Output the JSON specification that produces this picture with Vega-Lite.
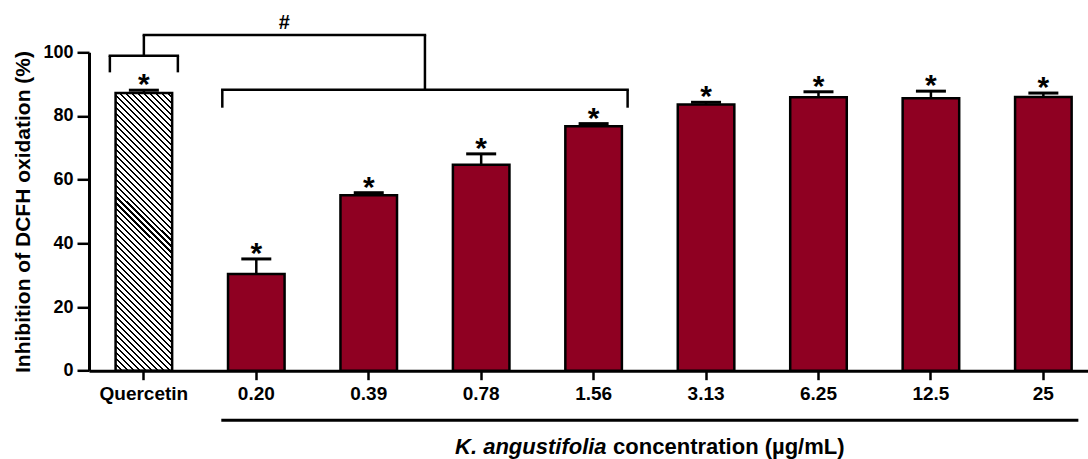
{
  "$schema": "https://vega.github.io/schema/vega-lite/v6.json",
  "width": 999,
  "height": 318.4,
  "autosize": {"type": "none"},
  "padding": {"left": 89, "top": 52.3, "right": 0, "bottom": 88.3},
  "config": {
    "view": {"stroke": null},
    "font": "Liberation Sans",
    "axisX": {"labelAngle": 0, "ticks": true, "tickSize": 9, "tickWidth": 2.5, "tickColor": "black", "domainWidth": 3, "domainColor": "black", "labelFont": "Liberation Sans", "labelFontWeight": "bold", "labelFontSize": 19, "labelColor": "black", "labelPadding": 5, "grid": false},
    "axisY": {"ticks": true, "grid": false, "tickSize": 12, "tickWidth": 2.5, "tickColor": "black", "domainWidth": 3, "domainColor": "black", "labelFont": "Liberation Sans", "labelFontWeight": "bold", "labelFontSize": 18, "labelColor": "black", "labelPadding": 4, "titleFont": "Liberation Sans", "titleFontWeight": "bold", "titleFontSize": 21, "titleColor": "black", "titleX": -59.5, "titleBaseline": "alphabetic"}
  },
  "datasets": {
    "bars": [
      {"group": "Quercetin", "mean": 87.2, "upper": 88.1},
      {"group": "0.20", "mean": 30.4, "upper": 35.1},
      {"group": "0.39", "mean": 55.1, "upper": 55.9},
      {"group": "0.78", "mean": 64.7, "upper": 68.1},
      {"group": "1.56", "mean": 76.8, "upper": 77.6},
      {"group": "3.13", "mean": 83.6, "upper": 84.3},
      {"group": "6.25", "mean": 85.9, "upper": 87.6},
      {"group": "12.5", "mean": 85.6, "upper": 87.8},
      {"group": "25", "mean": 86.0, "upper": 87.2}
    ],
    "brackets": [
      {"from": "Quercetin", "to": "Quercetin", "level": 98.9, "leg": 93.7},
      {"from": "0.20", "to": "1.56", "level": 88.2, "leg": 82.6}
    ]
  },
  "layer": [
    {
      "mark": {"type": "rule", "strokeDash": [4, 3], "strokeWidth": 1.5, "color": "black"},
      "encoding": {"y": {"datum": 50, "type": "quantitative", "title": "Inhibition of DCFH oxidation (%)"}}
    },
    {
      "data": {"name": "bars"},
      "transform": [{"filter": "datum.group !== 'Quercetin'"}],
      "mark": {"type": "bar", "fill": "#8F0022", "stroke": "black", "strokeWidth": 2.5},
      "encoding": {
        "x": {
          "field": "group", "type": "nominal", "sort": null, "title": null,
          "scale": {"domain": ["Quercetin", "0.20", "0.39", "0.78", "1.56", "3.13", "6.25", "12.5", "25"], "paddingInner": 0.497, "paddingOuter": 0.191, "align": 0.619, "round": false}
        },
        "y": {
          "field": "mean", "type": "quantitative", "title": "Inhibition of DCFH oxidation (%)",
          "scale": {"domain": [0, 100], "nice": false, "zero": true},
          "axis": {"values": [0, 20, 40, 60, 80, 100]}
        }
      }
    },
    {
      "data": {"name": "bars"},
      "transform": [{"filter": "datum.group === 'Quercetin'"}],
      "mark": {"type": "bar", "stroke": "black", "strokeWidth": 2.5,
        "fill": {"gradient": "linear", "x1": 0, "y1": 1, "x2": 0.2352, "y2": -0.1557, "stops": [
{"offset":0,"color":"#000"},{"offset":0.00625,"color":"#000"},{"offset":0.00625,"color":"transparent"},{"offset":0.01786,"color":"transparent"},
{"offset":0.01786,"color":"#000"},{"offset":0.02411,"color":"#000"},{"offset":0.02411,"color":"transparent"},{"offset":0.03571,"color":"transparent"},
{"offset":0.03571,"color":"#000"},{"offset":0.04196,"color":"#000"},{"offset":0.04196,"color":"transparent"},{"offset":0.05357,"color":"transparent"},
{"offset":0.05357,"color":"#000"},{"offset":0.05982,"color":"#000"},{"offset":0.05982,"color":"transparent"},{"offset":0.07143,"color":"transparent"},
{"offset":0.07143,"color":"#000"},{"offset":0.07768,"color":"#000"},{"offset":0.07768,"color":"transparent"},{"offset":0.08929,"color":"transparent"},
{"offset":0.08929,"color":"#000"},{"offset":0.09554,"color":"#000"},{"offset":0.09554,"color":"transparent"},{"offset":0.10714,"color":"transparent"},
{"offset":0.10714,"color":"#000"},{"offset":0.11339,"color":"#000"},{"offset":0.11339,"color":"transparent"},{"offset":0.125,"color":"transparent"},
{"offset":0.125,"color":"#000"},{"offset":0.13125,"color":"#000"},{"offset":0.13125,"color":"transparent"},{"offset":0.14286,"color":"transparent"},
{"offset":0.14286,"color":"#000"},{"offset":0.14911,"color":"#000"},{"offset":0.14911,"color":"transparent"},{"offset":0.16071,"color":"transparent"},
{"offset":0.16071,"color":"#000"},{"offset":0.16696,"color":"#000"},{"offset":0.16696,"color":"transparent"},{"offset":0.17857,"color":"transparent"},
{"offset":0.17857,"color":"#000"},{"offset":0.18482,"color":"#000"},{"offset":0.18482,"color":"transparent"},{"offset":0.19643,"color":"transparent"},
{"offset":0.19643,"color":"#000"},{"offset":0.20268,"color":"#000"},{"offset":0.20268,"color":"transparent"},{"offset":0.21429,"color":"transparent"},
{"offset":0.21429,"color":"#000"},{"offset":0.22054,"color":"#000"},{"offset":0.22054,"color":"transparent"},{"offset":0.23214,"color":"transparent"},
{"offset":0.23214,"color":"#000"},{"offset":0.23839,"color":"#000"},{"offset":0.23839,"color":"transparent"},{"offset":0.25,"color":"transparent"},
{"offset":0.25,"color":"#000"},{"offset":0.25625,"color":"#000"},{"offset":0.25625,"color":"transparent"},{"offset":0.26786,"color":"transparent"},
{"offset":0.26786,"color":"#000"},{"offset":0.27411,"color":"#000"},{"offset":0.27411,"color":"transparent"},{"offset":0.28571,"color":"transparent"},
{"offset":0.28571,"color":"#000"},{"offset":0.29196,"color":"#000"},{"offset":0.29196,"color":"transparent"},{"offset":0.30357,"color":"transparent"},
{"offset":0.30357,"color":"#000"},{"offset":0.30982,"color":"#000"},{"offset":0.30982,"color":"transparent"},{"offset":0.32143,"color":"transparent"},
{"offset":0.32143,"color":"#000"},{"offset":0.32768,"color":"#000"},{"offset":0.32768,"color":"transparent"},{"offset":0.33929,"color":"transparent"},
{"offset":0.33929,"color":"#000"},{"offset":0.34554,"color":"#000"},{"offset":0.34554,"color":"transparent"},{"offset":0.35714,"color":"transparent"},
{"offset":0.35714,"color":"#000"},{"offset":0.36339,"color":"#000"},{"offset":0.36339,"color":"transparent"},{"offset":0.375,"color":"transparent"},
{"offset":0.375,"color":"#000"},{"offset":0.38125,"color":"#000"},{"offset":0.38125,"color":"transparent"},{"offset":0.39286,"color":"transparent"},
{"offset":0.39286,"color":"#000"},{"offset":0.39911,"color":"#000"},{"offset":0.39911,"color":"transparent"},{"offset":0.41071,"color":"transparent"},
{"offset":0.41071,"color":"#000"},{"offset":0.41696,"color":"#000"},{"offset":0.41696,"color":"transparent"},{"offset":0.42857,"color":"transparent"},
{"offset":0.42857,"color":"#000"},{"offset":0.43482,"color":"#000"},{"offset":0.43482,"color":"transparent"},{"offset":0.44643,"color":"transparent"},
{"offset":0.44643,"color":"#000"},{"offset":0.45268,"color":"#000"},{"offset":0.45268,"color":"transparent"},{"offset":0.46429,"color":"transparent"},
{"offset":0.46429,"color":"#000"},{"offset":0.47054,"color":"#000"},{"offset":0.47054,"color":"transparent"},{"offset":0.48214,"color":"transparent"},
{"offset":0.48214,"color":"#000"},{"offset":0.48839,"color":"#000"},{"offset":0.48839,"color":"transparent"},{"offset":0.5,"color":"transparent"},
{"offset":0.5,"color":"#000"},{"offset":0.50625,"color":"#000"},{"offset":0.50625,"color":"transparent"},{"offset":0.51786,"color":"transparent"},
{"offset":0.51786,"color":"#000"},{"offset":0.52411,"color":"#000"},{"offset":0.52411,"color":"transparent"},{"offset":0.53571,"color":"transparent"},
{"offset":0.53571,"color":"#000"},{"offset":0.54196,"color":"#000"},{"offset":0.54196,"color":"transparent"},{"offset":0.55357,"color":"transparent"},
{"offset":0.55357,"color":"#000"},{"offset":0.55982,"color":"#000"},{"offset":0.55982,"color":"transparent"},{"offset":0.57143,"color":"transparent"},
{"offset":0.57143,"color":"#000"},{"offset":0.57768,"color":"#000"},{"offset":0.57768,"color":"transparent"},{"offset":0.58929,"color":"transparent"},
{"offset":0.58929,"color":"#000"},{"offset":0.59554,"color":"#000"},{"offset":0.59554,"color":"transparent"},{"offset":0.60714,"color":"transparent"},
{"offset":0.60714,"color":"#000"},{"offset":0.61339,"color":"#000"},{"offset":0.61339,"color":"transparent"},{"offset":0.625,"color":"transparent"},
{"offset":0.625,"color":"#000"},{"offset":0.63125,"color":"#000"},{"offset":0.63125,"color":"transparent"},{"offset":0.64286,"color":"transparent"},
{"offset":0.64286,"color":"#000"},{"offset":0.64911,"color":"#000"},{"offset":0.64911,"color":"transparent"},{"offset":0.66071,"color":"transparent"},
{"offset":0.66071,"color":"#000"},{"offset":0.66696,"color":"#000"},{"offset":0.66696,"color":"transparent"},{"offset":0.67857,"color":"transparent"},
{"offset":0.67857,"color":"#000"},{"offset":0.68482,"color":"#000"},{"offset":0.68482,"color":"transparent"},{"offset":0.69643,"color":"transparent"},
{"offset":0.69643,"color":"#000"},{"offset":0.70268,"color":"#000"},{"offset":0.70268,"color":"transparent"},{"offset":0.71429,"color":"transparent"},
{"offset":0.71429,"color":"#000"},{"offset":0.72054,"color":"#000"},{"offset":0.72054,"color":"transparent"},{"offset":0.73214,"color":"transparent"},
{"offset":0.73214,"color":"#000"},{"offset":0.73839,"color":"#000"},{"offset":0.73839,"color":"transparent"},{"offset":0.75,"color":"transparent"},
{"offset":0.75,"color":"#000"},{"offset":0.75625,"color":"#000"},{"offset":0.75625,"color":"transparent"},{"offset":0.76786,"color":"transparent"},
{"offset":0.76786,"color":"#000"},{"offset":0.77411,"color":"#000"},{"offset":0.77411,"color":"transparent"},{"offset":0.78571,"color":"transparent"},
{"offset":0.78571,"color":"#000"},{"offset":0.79196,"color":"#000"},{"offset":0.79196,"color":"transparent"},{"offset":0.80357,"color":"transparent"},
{"offset":0.80357,"color":"#000"},{"offset":0.80982,"color":"#000"},{"offset":0.80982,"color":"transparent"},{"offset":0.82143,"color":"transparent"},
{"offset":0.82143,"color":"#000"},{"offset":0.82768,"color":"#000"},{"offset":0.82768,"color":"transparent"},{"offset":0.83929,"color":"transparent"},
{"offset":0.83929,"color":"#000"},{"offset":0.84554,"color":"#000"},{"offset":0.84554,"color":"transparent"},{"offset":0.85714,"color":"transparent"},
{"offset":0.85714,"color":"#000"},{"offset":0.86339,"color":"#000"},{"offset":0.86339,"color":"transparent"},{"offset":0.875,"color":"transparent"},
{"offset":0.875,"color":"#000"},{"offset":0.88125,"color":"#000"},{"offset":0.88125,"color":"transparent"},{"offset":0.89286,"color":"transparent"},
{"offset":0.89286,"color":"#000"},{"offset":0.89911,"color":"#000"},{"offset":0.89911,"color":"transparent"},{"offset":0.91071,"color":"transparent"},
{"offset":0.91071,"color":"#000"},{"offset":0.91696,"color":"#000"},{"offset":0.91696,"color":"transparent"},{"offset":0.92857,"color":"transparent"},
{"offset":0.92857,"color":"#000"},{"offset":0.93482,"color":"#000"},{"offset":0.93482,"color":"transparent"},{"offset":0.94643,"color":"transparent"},
{"offset":0.94643,"color":"#000"},{"offset":0.95268,"color":"#000"},{"offset":0.95268,"color":"transparent"},{"offset":0.96429,"color":"transparent"},
{"offset":0.96429,"color":"#000"},{"offset":0.97054,"color":"#000"},{"offset":0.97054,"color":"transparent"},{"offset":0.98214,"color":"transparent"},
{"offset":0.98214,"color":"#000"},{"offset":0.98839,"color":"#000"},{"offset":0.98839,"color":"transparent"},{"offset":1,"color":"transparent"}
        ]}},
      "encoding": {
        "x": {"field": "group", "type": "nominal", "title": null},
        "y": {"field": "mean", "type": "quantitative", "title": "Inhibition of DCFH oxidation (%)"}
      }
    },
    {
      "data": {"name": "bars"},
      "mark": {"type": "rule", "strokeWidth": 2.5, "color": "black"},
      "encoding": {
        "x": {"field": "group", "type": "nominal", "title": null},
        "y": {"field": "mean", "type": "quantitative", "title": "Inhibition of DCFH oxidation (%)"},
        "y2": {"field": "upper"}
      }
    },
    {
      "data": {"name": "bars"},
      "mark": {"type": "tick", "orient": "horizontal", "size": 30, "thickness": 3, "color": "black", "opacity": 1},
      "encoding": {
        "x": {"field": "group", "type": "nominal", "title": null},
        "y": {"field": "upper", "type": "quantitative", "title": "Inhibition of DCFH oxidation (%)"}
      }
    },
    {
      "data": {"name": "bars"},
      "mark": {"type": "text", "text": "*", "font": "Liberation Sans", "fontWeight": "bold", "fontSize": 30, "baseline": "alphabetic", "align": "center", "dy": 4, "color": "black"},
      "encoding": {
        "x": {"field": "group", "type": "nominal", "title": null},
        "y": {"field": "upper", "type": "quantitative", "title": "Inhibition of DCFH oxidation (%)"}
      }
    },
    {
      "data": {"name": "brackets"},
      "mark": {"type": "rule", "strokeWidth": 2.5, "color": "black", "xOffset": -34, "x2Offset": 34, "strokeCap": "square"},
      "encoding": {
        "x": {"field": "from", "type": "nominal", "title": null},
        "x2": {"field": "to"},
        "y": {"field": "level", "type": "quantitative", "title": "Inhibition of DCFH oxidation (%)"}
      }
    },
    {
      "data": {"name": "brackets"},
      "mark": {"type": "rule", "strokeWidth": 2.5, "color": "black", "xOffset": -34},
      "encoding": {
        "x": {"field": "from", "type": "nominal", "title": null},
        "y": {"field": "level", "type": "quantitative", "title": "Inhibition of DCFH oxidation (%)"},
        "y2": {"field": "leg"}
      }
    },
    {
      "data": {"name": "brackets"},
      "mark": {"type": "rule", "strokeWidth": 2.5, "color": "black", "xOffset": 34},
      "encoding": {
        "x": {"field": "to", "type": "nominal", "title": null},
        "y": {"field": "level", "type": "quantitative", "title": "Inhibition of DCFH oxidation (%)"},
        "y2": {"field": "leg"}
      }
    },
    {
      "data": {"values": [{"at": "Quercetin", "low": 98.9, "high": 105.4}]},
      "mark": {"type": "rule", "strokeWidth": 2.5, "color": "black"},
      "encoding": {
        "x": {"field": "at", "type": "nominal", "title": null},
        "y": {"field": "low", "type": "quantitative", "title": "Inhibition of DCFH oxidation (%)"},
        "y2": {"field": "high"}
      }
    },
    {
      "data": {"values": [{"at": "0.39", "low": 88.2, "high": 105.4}]},
      "mark": {"type": "rule", "strokeWidth": 2.5, "color": "black", "xOffset": 56.2},
      "encoding": {
        "x": {"field": "at", "type": "nominal", "title": null},
        "y": {"field": "low", "type": "quantitative", "title": "Inhibition of DCFH oxidation (%)"},
        "y2": {"field": "high"}
      }
    },
    {
      "data": {"values": [{"from": "Quercetin", "to": "0.39", "level": 105.4}]},
      "mark": {"type": "rule", "strokeWidth": 2.5, "color": "black", "x2Offset": 56.2, "strokeCap": "square"},
      "encoding": {
        "x": {"field": "from", "type": "nominal", "title": null},
        "x2": {"field": "to"},
        "y": {"field": "level", "type": "quantitative", "title": "Inhibition of DCFH oxidation (%)"}
      }
    },
    {
      "data": {"values": [{"at": "0.20", "label": "#", "level": 107.2}]},
      "mark": {"type": "text", "font": "Liberation Sans", "fontWeight": "bold", "fontSize": 20, "baseline": "alphabetic", "align": "center", "xOffset": 28, "color": "black"},
      "encoding": {
        "x": {"field": "at", "type": "nominal", "title": null},
        "y": {"field": "level", "type": "quantitative", "title": "Inhibition of DCFH oxidation (%)"},
        "text": {"field": "label"}
      }
    },
    {
      "data": {"values": [{"from": "0.20", "to": "25", "level": -15.6}]},
      "mark": {"type": "rule", "strokeWidth": 3, "color": "black", "xOffset": -35, "x2Offset": 35},
      "encoding": {
        "x": {"field": "from", "type": "nominal", "title": null},
        "x2": {"field": "to"},
        "y": {"field": "level", "type": "quantitative", "title": "Inhibition of DCFH oxidation (%)"}
      }
    },
    {
      "data": {"values": [{"at": "1.56", "label": "K. angustifolia", "level": -26.3}]},
      "mark": {"type": "text", "font": "Liberation Sans", "fontWeight": "bold", "fontStyle": "italic", "fontSize": 22, "baseline": "alphabetic", "align": "right", "xOffset": 13, "color": "black"},
      "encoding": {
        "x": {"field": "at", "type": "nominal", "title": null},
        "y": {"field": "level", "type": "quantitative", "title": "Inhibition of DCFH oxidation (%)"},
        "text": {"field": "label"}
      }
    },
    {
      "data": {"values": [{"at": "1.56", "label": "concentration (µg/mL)", "level": -26.3}]},
      "mark": {"type": "text", "font": "Liberation Sans", "fontWeight": "bold", "fontSize": 22, "baseline": "alphabetic", "align": "left", "xOffset": 19.5, "color": "black"},
      "encoding": {
        "x": {"field": "at", "type": "nominal", "title": null},
        "y": {"field": "level", "type": "quantitative", "title": "Inhibition of DCFH oxidation (%)"},
        "text": {"field": "label"}
      }
    }
  ]
}
